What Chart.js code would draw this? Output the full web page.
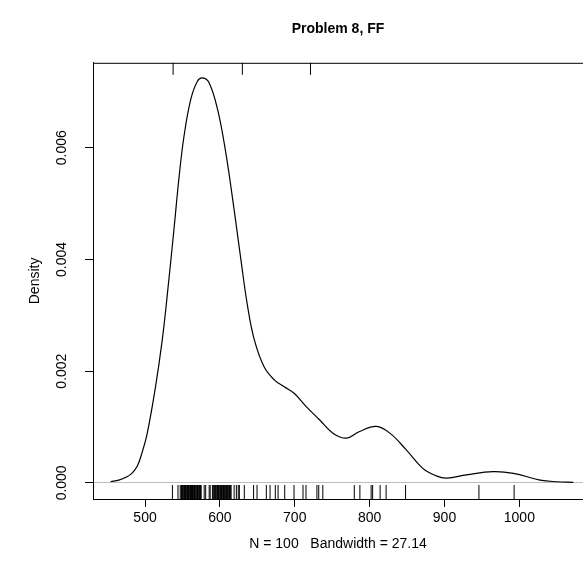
<!DOCTYPE html>
<html>
<head>
<meta charset="utf-8">
<script src="https://cdn.jsdelivr.net/npm/chart.js@4/dist/chart.umd.min.js"></script>
<style>
  html, body { margin: 0; padding: 0; background: #fff; overflow: hidden; }
  canvas { display: block; }
</style>
</head>
<body>
<canvas id="densityChart" width="583" height="583"></canvas>
<script>
// density curve
const curveX = [454, 465, 476, 483, 489.7, 496, 503, 514, 523, 530, 539, 545.5, 552, 561,
    570, 577, 585.7, 597, 608, 619, 628, 637, 646, 659, 673, 686, 699.5, 715, 733, 751,
    769, 786.6, 809, 827, 849, 871, 889, 902.7, 929.5, 965, 992, 1027.7, 1050, 1072];
const curveY = [0.00002, 0.00005, 0.00011, 0.00018, 0.00030, 0.00054, 0.00089, 0.00172,
    0.00256, 0.0034, 0.00459, 0.00548, 0.0062, 0.00686, 0.00719, 0.00725, 0.00716,
    0.00668, 0.0059, 0.00489, 0.0040, 0.00316, 0.00256, 0.00208, 0.00184, 0.00172,
    0.0016, 0.00137, 0.00113, 0.00089, 0.0008, 0.00092, 0.00101, 0.00089, 0.00059,
    0.00026, 0.000125, 0.000084, 0.000143, 0.0002, 0.00017, 0.00005, 0.00002, 0.00001];

// observations shown in the rug
const rugValues = [536.6, 544, 547, 548.5, 549, 550, 551, 552, 552.5, 553, 554, 555, 556,
    556.5, 557, 558, 559, 560, 560.5, 561, 562, 563, 563.5, 564, 565, 566, 566.5, 567,
    568, 569, 570, 570.5, 571, 572, 573, 573.5, 574, 575, 579, 581, 585.7, 587, 590,
    591, 592, 593, 594, 595, 596, 597, 597.5, 598, 599, 600, 601, 601.5, 602, 603, 604,
    604.5, 605, 606, 607, 608, 608.5, 609, 610, 611, 612, 612.5, 613, 614, 615, 619,
    622, 624.5, 626, 632.6, 645, 649.6,
    662, 667, 674, 677.7, 686.6, 699, 711, 715, 729.6, 732, 737.5, 779.5, 787, 802,
    804, 814, 822, 848, 946, 993];
const topRugValues = [537.5, 630, 721];

const xTicks = [500, 600, 700, 800, 900, 1000];
const yTicks = [0, 0.002, 0.004, 0.006];

const chartTitle = 'Problem 8, FF';
const xTitle = 'N = 100   Bandwidth = 27.14';
const yTitle = 'Density';

Chart.defaults.font.family = "'Liberation Sans', Arial, Helvetica, sans-serif";
Chart.defaults.color = '#000';

// rug marks and the top edge of the box
const rugPlugin = {
    id: 'rug',
    afterDatasetsDraw(chart) {
        const ctx = chart.ctx;
        const area = chart.chartArea;
        const xs = chart.scales.x;
        ctx.save();
        ctx.strokeStyle = '#000';
        ctx.lineWidth = 1;
        ctx.beginPath();
        rugValues.forEach(v => {
            const px = xs.getPixelForValue(v);
            ctx.moveTo(px, area.bottom);
            ctx.lineTo(px, area.bottom - 14);
        });
        topRugValues.forEach(v => {
            const px = xs.getPixelForValue(v);
            ctx.moveTo(px, area.top);
            ctx.lineTo(px, area.top + 12);
        });
        ctx.stroke();
        ctx.beginPath();
        ctx.moveTo(area.left, area.top + 0.5);
        ctx.lineTo(area.right, area.top + 0.5);
        ctx.stroke();
        ctx.restore();
    }
};

const ctx = document.getElementById('densityChart').getContext('2d');
new Chart(ctx, {
    type: 'line',
    data: {
        datasets: [{
            data: curveX.map((x, i) => ({ x: x, y: curveY[i] })),
            borderColor: '#000',
            borderWidth: 1.2,
            pointRadius: 0,
            fill: false,
            tension: 0.4
        }]
    },
    options: {
        responsive: false,
        animation: false,
        layout: { padding: 0 },
        plugins: {
            legend: { display: false },
            tooltip: { enabled: false },
            title: {
                display: true,
                text: chartTitle,
                fullSize: false,
                color: '#000',
                font: { size: 14, weight: 'bold' },
                padding: { top: 21, bottom: 25 }
            }
        },
        scales: {
            x: {
                type: 'linear',
                min: 430.5,
                max: 1085,
                afterBuildTicks: s => { s.ticks = xTicks.map(v => ({ value: v })); },
                afterFit: s => { s.height = 84; },
                grid: { drawOnChartArea: false, color: '#000', tickLength: 8 },
                border: { display: true, color: '#000', width: 1 },
                ticks: {
                    color: '#000',
                    font: { size: 14 },
                    padding: 3,
                    maxRotation: 0,
                    callback: v => String(v)
                },
                title: {
                    display: true,
                    text: xTitle,
                    color: '#000',
                    font: { size: 14 },
                    padding: { top: 0, bottom: 30 }
                }
            },
            y: {
                type: 'linear',
                min: -0.000289,
                max: 0.00752,
                afterBuildTicks: s => { s.ticks = yTicks.map(v => ({ value: v })); },
                afterFit: s => { s.width = 93; },
                grid: {
                    drawOnChartArea: true,
                    color: c => (c.tick && c.tick.value === 0) ? '#bebebe' : 'rgba(0,0,0,0)',
                    tickColor: '#000',
                    tickLength: 8
                },
                border: { display: true, color: '#000', width: 1 },
                ticks: {
                    color: '#000',
                    font: { size: 14 },
                    minRotation: 90,
                    maxRotation: 90,
                    crossAlign: 'center',
                    padding: 5,
                    callback: v => v.toFixed(3)
                },
                title: {
                    display: true,
                    text: yTitle,
                    color: '#000',
                    font: { size: 14 },
                    padding: { top: 27, bottom: 0 }
                }
            }
        }
    },
    plugins: [rugPlugin]
});
</script>
</body>
</html>
